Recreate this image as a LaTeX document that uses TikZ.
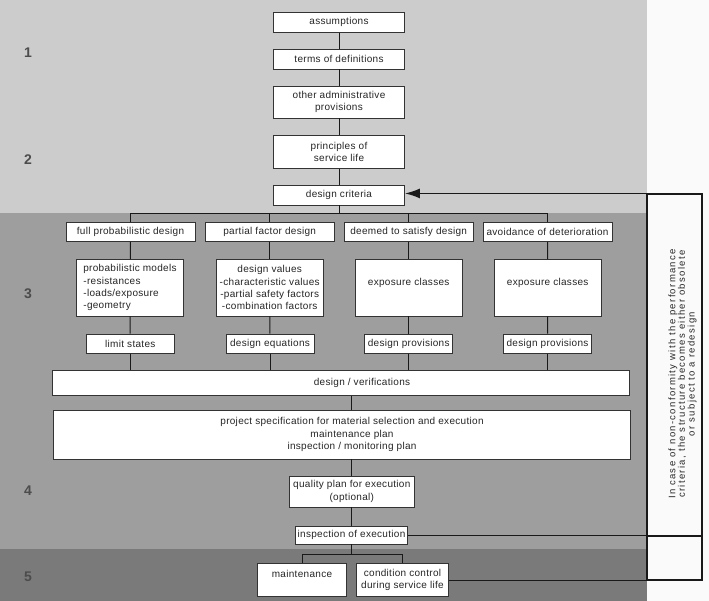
\documentclass[tikz,border=0pt]{standalone}
\usepackage{fontspec}
\setmainfont{Liberation Sans}
\newfontfamily\boxfont[LetterSpace=3]{Liberation Sans}
\newfontfamily\notefont[LetterSpace=14]{Liberation Sans}
\usetikzlibrary{arrows.meta}
\definecolor{bandone}{gray}{0.80}
\definecolor{bandtwo}{gray}{0.62}
\definecolor{bandthree}{gray}{0.48}
\definecolor{paper}{gray}{0.98}
\definecolor{boxline}{gray}{0.2}
\definecolor{linecol}{gray}{0.1}
\definecolor{textcol}{gray}{0.15}
\definecolor{numcol}{gray}{0.3}

\begin{document}
\begin{tikzpicture}[x=1pt, y=-1pt,
  box/.style={draw=boxline, fill=white, line width=0.8pt, inner sep=1pt, align=center, text=textcol, font={\boxfont\fontsize{10}{12.2}\selectfont}},
  cbox/.style={box, minimum width=131pt},
  rowbox/.style={box, minimum width=129pt, minimum height=19pt},
  tallbox/.style={box, minimum width=107pt, minimum height=56.5pt},
  lowbox/.style={box, minimum width=88pt, minimum height=19.5pt},
  frame/.style={draw=linecol, line width=1.1pt, inner sep=0pt},
  num/.style={font={\bfseries\fontsize{14}{14}\selectfont}, text=numcol},
  link/.style={draw=linecol, line width=1pt},
  arr/.style={-{Latex[length=15pt,width=10pt]}, line width=1.6pt, draw=linecol}
]
\useasboundingbox (0,0) rectangle (709,601);
\fill[bandone] (0,0) rectangle (647,213);
\fill[bandtwo] (0,213) rectangle (647,549);
\fill[bandthree] (0,549) rectangle (647,601);
\fill[paper] (647,0) rectangle (709,601);

\node[num] (n1) at (28,53) {1};
\node[num] (n2) at (28,160) {2};
\node[num] (n3) at (28,294) {3};
\node[num] (n4) at (28,491) {4};
\node[num] (n5) at (28,577) {5};

\node[cbox, minimum height=20pt] (assum) at (339,22.3) {assumptions};
\node[cbox, minimum height=20pt] (terms) at (339,59) {terms of definitions};
\node[cbox, minimum height=32pt] (admin) at (339,102) {other administrative\\provisions};
\node[cbox, minimum height=33pt] (princ) at (339,152) {principles of\\service life};
\node[cbox, minimum height=20pt] (crit) at (339,195) {design criteria};

\node[rowbox] (fpd) at (130.5,232) {full probabilistic design};
\node[rowbox] (pfd) at (269.7,232) {partial factor design};
\node[rowbox] (dsd) at (408.7,232) {deemed to satisfy design};
\node[rowbox] (aod) at (547.5,232) {avoidance of deterioration};

\node[tallbox, align=left] (pm) at (130,287.7) {probabilistic models\\-resistances\\-loads/exposure\\-geometry};
\node[tallbox] (dv) at (269.7,287.7) {design values\\-characteristic values\\-partial safety factors\\-combination factors};
\node[tallbox] (ec1) at (408.7,287.7) {exposure classes\\\mbox{}};
\node[tallbox] (ec2) at (547.7,287.7) {exposure classes\\\mbox{}};

\node[lowbox] (ls) at (130.3,343.7) {limit states};
\node[lowbox] (deq) at (270,343.7) {design equations};
\node[lowbox] (dp1) at (408.7,343.7) {design provisions};
\node[lowbox] (dp2) at (547.5,343.7) {design provisions};

\node[box, minimum width=577pt, minimum height=25pt] (dver) at (341,383.3) {\hspace*{42pt}design / verifications};
\node[box, minimum width=577pt, minimum height=49pt] (spec) at (342,434.5) {\hspace*{20pt}project specification for material selection and execution\\\hspace*{20pt}maintenance plan\\\hspace*{20pt}inspection / monitoring plan};
\node[box, minimum width=125pt, minimum height=31pt] (qp) at (351.8,491.5) {quality plan for execution\\(optional)};
\node[box, minimum width=112pt, minimum height=18pt] (insp) at (351.5,535) {inspection of execution};
\node[box, minimum width=89pt, minimum height=33pt] (maint) at (302,580) {maintenance\\\mbox{}};
\node[box, minimum width=92pt, minimum height=33pt] (cond) at (402.5,580) {condition control\\during service life};

\node[frame, minimum width=55pt, minimum height=342pt] (note) at (674.5,365) {};
\node[frame, minimum width=55pt, minimum height=44pt] (cell) at (674.5,558) {};
\node[rotate=90, align=center, text=textcol, inner sep=0pt, font={\notefont\fontsize{9.5}{9.6}\selectfont}] (notetext) at (682.5,374) {In case of non-conformity with the performance\\criteria, the structure becomes either obsolete\\or subject to a redesign};

\coordinate (br) at (339,214);
\coordinate (br2) at (351.8,554.3);

\draw[link] (assum) -- (terms);
\draw[link] (terms) -- (admin);
\draw[link] (admin) -- (princ);
\draw[link] (princ) -- (crit);
\draw[link] (crit) -- (br);
\draw[link] (br) -| (fpd);
\draw[link] (br) -| (pfd);
\draw[link] (br) -| (dsd);
\draw[link] (br) -| (aod);

\draw[link] (fpd) -- (pm);
\draw[link] (pfd) -- (dv);
\draw[link] (dsd) -- (ec1);
\draw[link] (aod) -- (ec2);
\draw[link] (pm) -- (ls);
\draw[link] (dv) -- (deq);
\draw[link] (ec1) -- (dp1);
\draw[link] (ec2) -- (dp2);
\draw[link] (ls) -- (ls |- dver.north);
\draw[link] (deq) -- (deq |- dver.north);
\draw[link] (dp1) -- (dp1 |- dver.north);
\draw[link] (dp2) -- (dp2 |- dver.north);

\draw[link] (qp |- dver.south) -- (qp |- spec.north);
\draw[link] (qp |- spec.south) -- (qp);
\draw[link] (qp) -- (qp |- insp.north);
\draw[link] (qp |- insp.south) -- (br2);
\draw[link] (br2) -| (maint);
\draw[link] (br2) -| (cond);

\draw[arr] (note.north east) -- (note.north east -| crit.east);
\draw[link] (insp.east) -- (insp.east -| note.east);
\draw[link] (cond.east) -- (cond.east -| cell.east);
\end{tikzpicture}
\end{document}
